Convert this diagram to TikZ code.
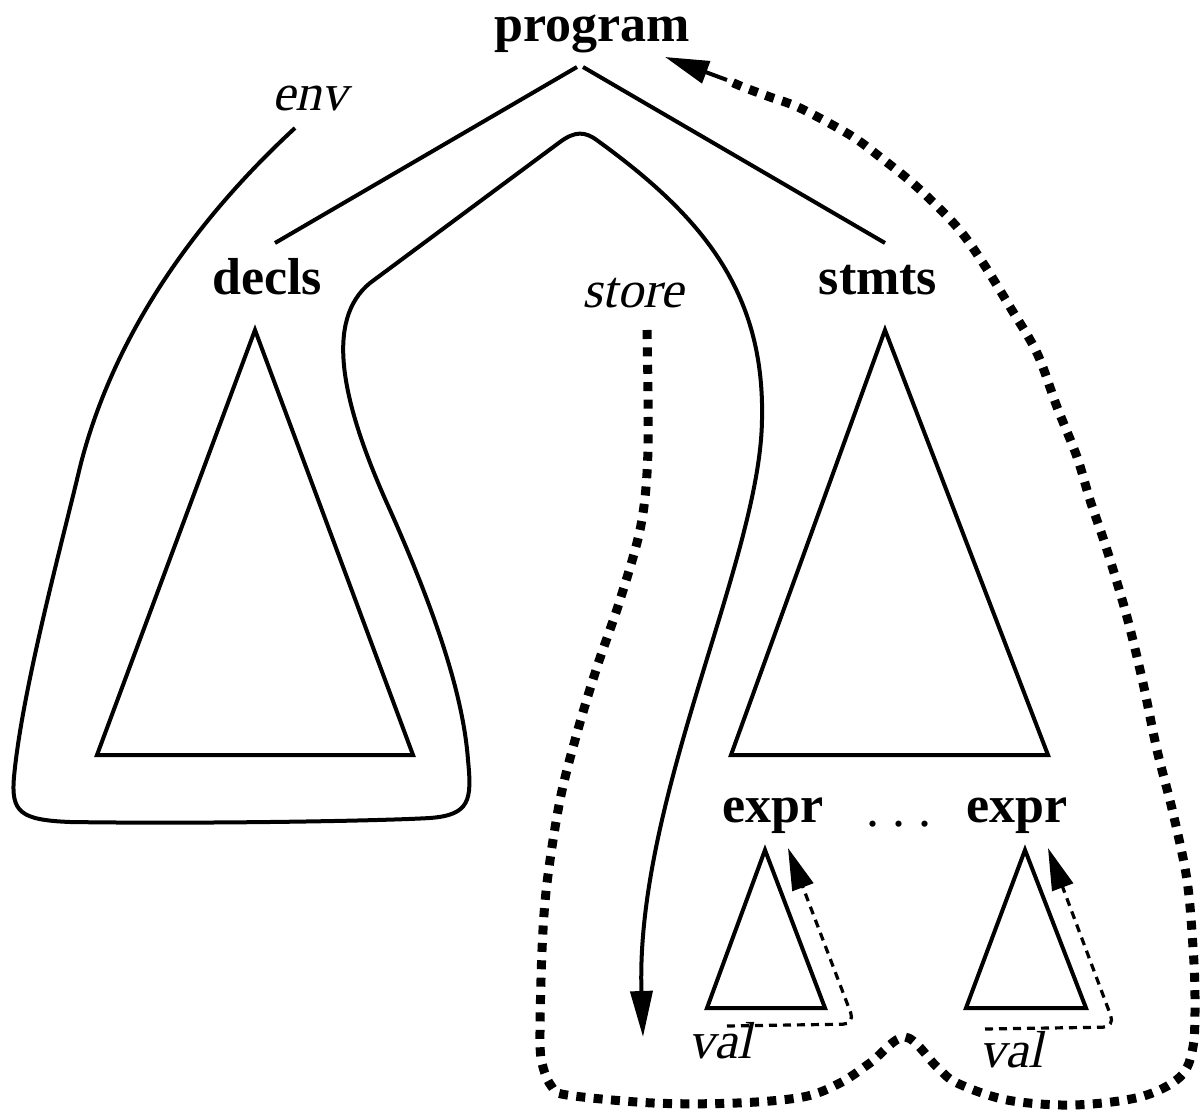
\documentclass[tikz,border=0pt]{standalone}
\usepackage{fontspec}
\setmainfont{Liberation Serif}
\newfontfamily\labelit{Liberation Serif}[FakeSlant=0.22]
\usetikzlibrary{arrows.meta}
\begin{document}
\begin{tikzpicture}[x=0.25pt,y=-0.25pt,
  lbl/.style={font=\fontsize{13}{15}\selectfont\bfseries, anchor=base, inner sep=0pt},
  ilbl/.style={font=\labelit\fontsize{13}{15}\selectfont, anchor=base, inner sep=0pt},
  plbl/.style={font=\fontsize{13}{15}\selectfont, anchor=base, inner sep=0pt},
  sline/.style={line width=1pt, line join=miter},
  bigdots/.style={line width=2.25pt, dash pattern=on 2.25pt off 2.1pt},
  smalldash/.style={line width=0.8pt, dash pattern=on 2pt off 1.5pt},
  tip/.style={-{Triangle[length=11.5pt,width=5.5pt]}}
]
\useasboundingbox (0,0) rectangle (1202,1113);

% labels
\node[lbl] (program) at (592,41) {program};
\node[lbl] (decls) at (267,295) {decls};
\node[lbl] (stmts) at (878,295) {stmts};
\node[lbl] (expr1) at (773,822) {expr};
\node[lbl] (expr2) at (1017,822) {expr};
\node[plbl] (dots) at (899,826) {.\ .\ .};
\node[ilbl] (env) at (310,110) {env};
\node[ilbl] (store) at (633,308) {store};
\node[ilbl] (val1) at (720,1058) {val};
\node[ilbl] (val2) at (1011,1067) {val};

% tree edges
\coordinate (pl) at (577,67);
\coordinate (pr) at (583,67);
\coordinate (dl) at (275,243);
\coordinate (sr) at (885,243);
\draw[sline] (pl) -- (dl);
\draw[sline] (pr) -- (sr);

% triangles
\draw[sline] (255,330) -- (97,755) -- (413,755) -- cycle;
\draw[sline] (885,330) -- (731,755) -- (1048,755) -- cycle;
\draw[sline] (765,850) -- (707,1008) -- (825,1008) -- cycle;
\draw[sline] (1025,850) -- (966,1008) -- (1086,1008) -- cycle;

% env / store solid curve
\coordinate (envstart) at (295,128);
\coordinate (storeend) at (643,1037);
\draw[sline, tip] (envstart)
  .. controls (190,225) and (112,340) .. (80,467)
  .. controls (62,543) and (22,690) .. (14,777)
  .. controls (11,812) and (20,820) .. (70,822)
  .. controls (200,824) and (380,821) .. (430,818)
  .. controls (470,815) and (472,800) .. (468,760)
  .. controls (463,690) and (430,600) .. (390,510)
  .. controls (340,400) and (325,320) .. (370,283)
  -- (560,142)
  .. controls (575,131) and (585,131) .. (598,141)
  .. controls (700,215) and (765,290) .. (762,420)
  .. controls (760,560) and (635,800) .. (storeend);

% big dotted store path
\coordinate (dstart) at (647,330);
\coordinate (dend) at (727,80);
\coordinate (progtip) at (665,57);
\draw[bigdots] plot[smooth, tension=0.55] coordinates {
 (647,330) (648,450) (641,525) (620,600) (597,667) (577,733) (560,800)
 (547,883) (542,950) (540,1040) (543,1067) (552,1087) (567,1095) (653,1103)
 (737,1103) (803,1097) (840,1083) (870,1063) (905,1037) (937,1067) (957,1083)
 (1007,1100) (1073,1105) (1140,1097) (1180,1077) (1193,1047) (1195,997)
 (1193,947) (1187,880) (1173,813) (1157,750) (1143,683) (1127,617) (1107,550)
 (1090,500) (1077,457) (1057,407) (1037,353) (1010,307) (983,263) (957,227)
 (917,187) (880,157) (850,135) (800,108) (770,97) (743,87) (727,80)};
\draw[sline, -{Triangle[length=11pt,width=5.75pt]}] (dend) -- (progtip);

% val arrows
\coordinate (v1s) at (727,1026);
\coordinate (v1c) at (855,1024);
\coordinate (v1t) at (788,848);
\draw[smalldash, rounded corners=3pt, -{Triangle[length=10.5pt,width=5.5pt]}] (v1s) -- (v1c) -- (v1t);
\coordinate (v2s) at (985,1029);
\coordinate (v2c) at (1115,1027);
\coordinate (v2t) at (1048,848);
\draw[smalldash, rounded corners=3pt, -{Triangle[length=10.5pt,width=5.5pt]}] (v2s) -- (v2c) -- (v2t);
\end{tikzpicture}
\end{document}
